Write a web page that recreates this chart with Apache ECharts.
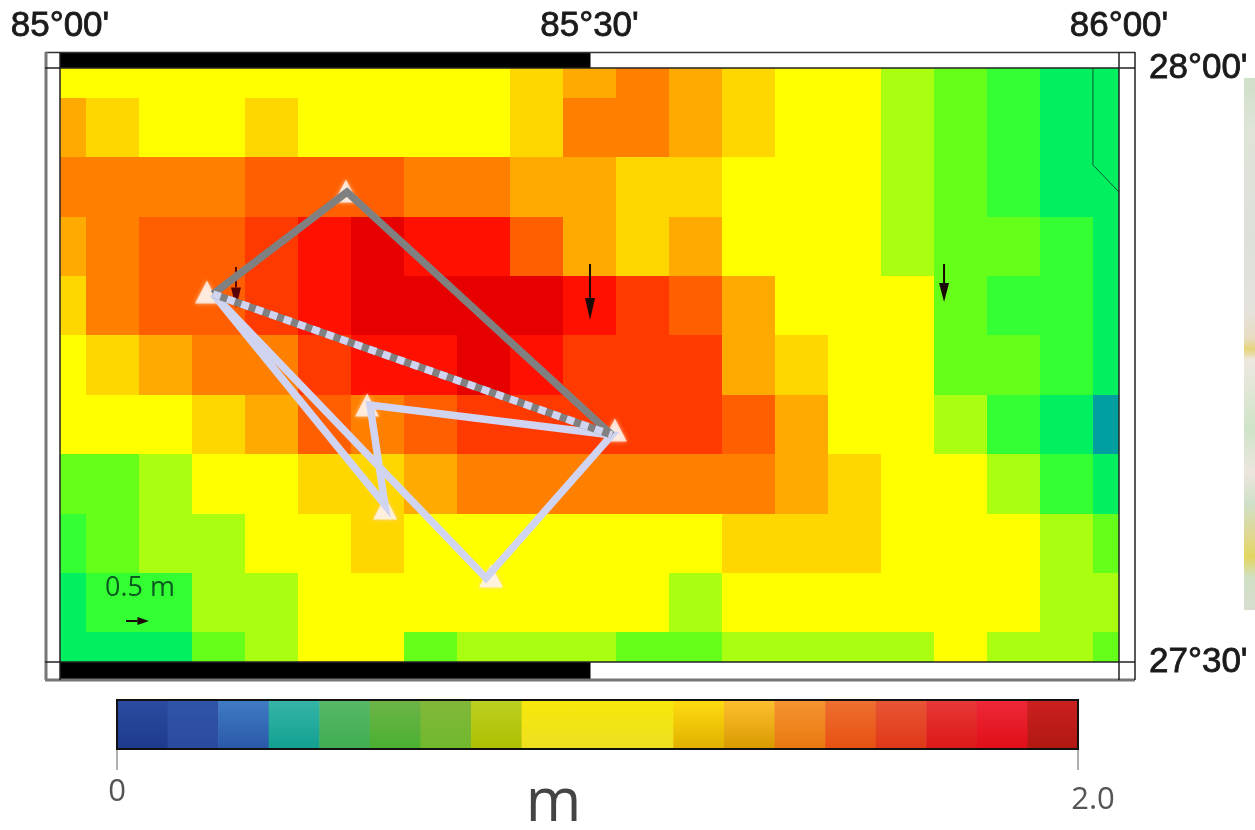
<!DOCTYPE html>
<html><head><meta charset="utf-8">
<style>html,body{margin:0;padding:0;background:#fff}#c{width:1255px;height:830px}</style>
<script src="https://cdn.jsdelivr.net/npm/echarts@6/dist/echarts.min.js"></script>
</head><body><div id="c"></div>
<script>
// Grid nodes every 0.05 degrees; rows run from 28.00N down to 27.50N, columns from 85.00E to 86.00E
const lons = [85,85.05,85.1,85.15,85.2,85.25,85.3,85.35,85.4,85.45,85.5,85.55,85.6,85.65,85.7,85.75,85.8,85.85,85.9,85.95,86];
const lats = [28,27.95,27.9,27.85,27.8,27.75,27.7,27.65,27.6,27.55,27.5];
// Estimated displacement (m)
const row2800 = [1,1,1,1,1,1,1,1,1,1.2,1.3,1.42,1.3,1.2,1,1,.8,.7,.6,.5,.5];
const row2795 = [1.3,1.2,1,1,1.2,1,1,1,1,1.2,1.42,1.42,1.3,1.2,1,1,.8,.7,.6,.5,.5];
const row2790 = [1.42,1.42,1.42,1.42,1.52,1.52,1.52,1.42,1.42,1.3,1.3,1.2,1.2,1,1,1,.8,.7,.6,.5,.5];
const row2785 = [1.3,1.42,1.52,1.52,1.63,1.73,1.84,1.73,1.73,1.52,1.3,1.2,1.3,1,1,1,.8,.7,.7,.6,.5];
const row2780 = [1.2,1.42,1.52,1.52,1.63,1.73,1.84,1.84,1.84,1.84,1.73,1.63,1.52,1.3,1,1,1,.7,.6,.6,.5];
const row2775 = [1,1.2,1.3,1.42,1.42,1.63,1.73,1.73,1.84,1.73,1.63,1.63,1.63,1.3,1.2,1,1,.7,.7,.6,.5];
const row2770 = [1,1,1,1.2,1.3,1.52,1.42,1.52,1.63,1.63,1.63,1.63,1.63,1.52,1.3,1,1,.8,.6,.5,.4];
const row2765 = [.7,.7,.8,1,1,1.2,1.2,1.3,1.42,1.42,1.42,1.42,1.42,1.42,1.3,1.2,1,1,.8,.6,.5];
const row2760 = [.6,.7,.8,.8,1,1,1.2,1,1,1,1,1,1,1.2,1.2,1.2,1,1,1,.8,.7];
const row2755 = [.5,.6,.6,.8,.8,1,1,1,1,1,1,1,.8,1,1,1,1,1,1,.8,.8];
const row2750 = [.5,.5,.5,.7,.8,1,1,.7,.8,.8,.8,.7,.7,.8,.8,.8,.8,1,.8,.8,.7];
const valueRows = [row2800,row2795,row2790,row2785,row2780,row2775,row2770,row2765,row2760,row2755,row2750];

const xTickLabels = ["85°00'","85°30'","86°00'"];
const yTickLabels = ["27°30'","28°00'"];
const scaleLabels = ["0","2.0"];
const scaleBins = 19, scaleMax = 2;
const mapColors = ['#000080','#0000c0','#0050ff','#00a0a0','#00f060','#33ff33','#66ff1a','#aaff10','#ffff00','#ffff00','#ffff00','#ffd700','#ffaa00','#ff8000','#ff5f00','#ff3a00','#ff1000','#e60000','#b00000'];
const barTop = ['#2a4ca0','#3055a8','#3f7cc4','#35b5a8','#58b868','#6eb448','#82b83a','#bcd020','#f7e80a','#f7e80a','#f7e80a','#ffdc10','#ffc030','#f59530','#ee7030','#e85535','#e83838','#ee2838','#cc2020'];
const barBottom = ['#1e3a8e','#2a4aa0','#2a58a8','#12a090','#3fae50','#4ab030','#70b82c','#aec000','#eedf20','#eedf20','#eedf20','#e0b000','#d89a00','#e87810','#e85010','#e03818','#dc1818','#e00e18','#b01810'];

// Stations (lon, lat)
const stA = [85.271,27.8956], stB = [85.1445,27.8098], stC = [85.5212,27.6911];
const stD = [85.2927,27.7163], stE = [85.3069,27.6322], stF = [85.4023,27.5707];
const stationMarks = [[85.270,27.8965],[85.1388,27.8114],[85.290,27.7163],[85.307,27.6296],[85.407,27.5724],[85.524,27.6953]];
const grayPath = [stB,stA,stC];
const tiePath = [stB,stC];
const lavenderPath = [stB,stE,stD,stC,stF,stB];
const borderPath = [[85.9754,28],[85.9754,27.9184],[86,27.8956]];
// Arrows: lon0, lat0, lon1, lat1
const arrows = [[85.1662,27.8325,85.1662,27.798],[85.5005,27.835,85.5005,27.7879],[85.8348,27.835,85.8348,27.803],[85.0623,27.5345,85.084,27.5345]];
const blackBars = [[85,85.5,1],[85,85.5,-1]];

const cells = [];
valueRows.forEach((r,i)=>r.forEach((v,j)=>cells.push([lons[j],lats[i],v])));
const scaleData = barTop.map((c,i)=>[i*scaleMax/scaleBins,(i+1)*scaleMax/scaleBins,i]);

const lavender='#d0d4f0', gray='#808080';
const lineSeries=(data,color,extra)=>Object.assign({type:'line',data,showSymbol:false,symbol:'none',animation:false,silent:true,
  lineStyle:Object.assign({color,width:7.5,cap:'butt',join:'miter'},extra||{})});
const heavy={textBorderColor:'#1a1a1a',textBorderWidth:.8};

const option={
  animation:false,
  backgroundColor:'#fff',
  textStyle:{fontFamily:'Liberation Sans'},
  grid:[{left:60,top:68,width:1059,height:594,show:false,outerBoundsMode:'none'},{left:117,top:700,width:961,height:49,show:false,outerBoundsMode:'none'}],
  xAxis:[{type:'value',gridIndex:0,position:'top',min:85,max:86,interval:.5,splitLine:{show:false},axisLine:{show:false},axisTick:{show:false},
      axisLabel:Object.assign({margin:24,fontSize:35,color:'#1a1a1a',fontFamily:'Liberation Sans',formatter:(v,i)=>xTickLabels[i]},heavy)},
    {type:'value',gridIndex:1,position:'bottom',min:0,max:scaleMax,interval:scaleMax,splitLine:{show:false},axisLine:{show:false},
      axisTick:{show:true,length:21,lineStyle:{color:'#b0b0b0',width:2}},
      name:'m',nameLocation:'middle',nameGap:25,nameMoveOverlap:false,nameTextStyle:{fontSize:60,color:'#444',fontFamily:'Open Sans',padding:[0,88,0,0]},
      axisLabel:{margin:28,fontSize:31,color:'#555',fontFamily:'Open Sans',alignMaxLabel:'center',
        formatter:(v,i)=>i===0?'{z|'+scaleLabels[0]+'}':'{t|'+scaleLabels[1]+'}',
        rich:{z:{fontSize:31,color:'#555',fontFamily:'Open Sans'},t:{fontSize:31,color:'#555',fontFamily:'Open Sans',padding:[8,0,0,30]}}}}],
  yAxis:[{type:'value',gridIndex:0,position:'right',min:27.5,max:28,interval:.5,splitLine:{show:false},axisLine:{show:false},axisTick:{show:false},
      axisLabel:Object.assign({margin:30,fontSize:35,padding:[3,0,0,0],color:'#1a1a1a',fontFamily:'Liberation Sans',formatter:(v,i)=>yTickLabels[i]},heavy)},
    {type:'value',gridIndex:1,min:0,max:1,show:false}],
  series:[
    {type:'custom',xAxisIndex:0,yAxisIndex:0,clip:true,silent:true,data:cells,encode:{x:0,y:1},z:1,
      renderItem(p,api){
        const lon=api.value(0),lat=api.value(1),v=api.value(2);
        const a=api.coord([lon-.025,lat+.025]),b=api.coord([lon+.025,lat-.025]);
        const x=Math.round(a[0]),y=Math.round(a[1]);
        return {type:'rect',shape:{x,y,width:Math.round(b[0])-x,height:Math.round(b[1])-y},
          style:{fill:mapColors[Math.floor(v/(scaleMax/scaleBins))]}};
      }},
    {type:'custom',xAxisIndex:0,yAxisIndex:0,clip:false,silent:true,data:blackBars,z:3,encode:{x:[0,1]},
      renderItem(p,api){
        const top=api.value(2)>0;
        const a=api.coord([api.value(0),top?28:27.5]),b=api.coord([api.value(1),top?28:27.5]);
        const h=top?16:18;
        return {type:'rect',shape:{x:a[0],y:top?a[1]-h:a[1],width:b[0]-a[0]+1,height:h},style:{fill:'#000'}};
      }},
    Object.assign(lineSeries(borderPath,'#0a5a30',{width:1}),{z:2}),
    {type:'custom',xAxisIndex:0,yAxisIndex:0,clip:false,silent:true,data:arrows,z:4,encode:{x:[0,2],y:[1,3]},
      renderItem(p,api){
        const s=api.coord([api.value(0),api.value(1)]),e=api.coord([api.value(2),api.value(3)]);
        const dx=e[0]-s[0],dy=e[1]-s[1],L=Math.hypot(dx,dy),ux=dx/L,uy=dy/L;
        const hl=Math.min(22,L*.5),hw=L>30?5:4;
        const bx=e[0]-ux*hl,by=e[1]-uy*hl;
        const col=p.dataIndex===0?'#5a0505':'#1a0a08';
        return {type:'group',children:[
          {type:'line',shape:{x1:s[0],y1:s[1],x2:bx,y2:by},style:{stroke:col,lineWidth:2}},
          {type:'polygon',shape:{points:[[e[0],e[1]],[bx-uy*hw,by+ux*hw],[bx+uy*hw,by-ux*hw]]},style:{fill:col}}]};
      }},
    {type:'scatter',xAxisIndex:0,yAxisIndex:0,data:stationMarks,symbol:'triangle',symbolSize:[24,23],z:5,silent:true,
      itemStyle:{color:'#fff8f2',shadowBlur:4,shadowColor:'#ffd0b0'}},
    Object.assign(lineSeries(lavenderPath,lavender),{z:6}),
    Object.assign(lineSeries(grayPath,gray),{z:7}),
    Object.assign(lineSeries(tiePath,gray),{z:7}),
    Object.assign(lineSeries(tiePath,lavender,{type:[8,7]}),{z:8}),
    {type:'custom',xAxisIndex:1,yAxisIndex:1,clip:false,silent:true,data:scaleData,encode:{x:[0,1]},z:2,
      renderItem(p,api){
        const i=api.value(2);
        const a=api.coord([api.value(0),1]),b=api.coord([api.value(1),0]);
        return {type:'rect',shape:{x:a[0],y:a[1],width:b[0]-a[0]+.6,height:b[1]-a[1]},
          style:{fill:new echarts.graphic.LinearGradient(0,0,0,1,[{offset:0,color:barTop[i]},{offset:1,color:barBottom[i]}])}};
      }}
  ],
  graphic:[
    {type:'line',shape:{x1:45,y1:52.5,x2:1135,y2:52.5},style:{stroke:'#333',lineWidth:1.5},z:20},
    {type:'line',shape:{x1:46,y1:52,x2:46,y2:680},style:{stroke:'#777',lineWidth:3},z:20},
    {type:'line',shape:{x1:45,y1:680,x2:1135,y2:680},style:{stroke:'#777',lineWidth:3},z:20},
    {type:'line',shape:{x1:1135,y1:52,x2:1135,y2:680},style:{stroke:'#222',lineWidth:1.5},z:20},
    {type:'line',shape:{x1:1119,y1:52,x2:1119,y2:680},style:{stroke:'#222',lineWidth:1.5},z:20},
    {type:'line',shape:{x1:60,y1:52,x2:60,y2:680},style:{stroke:'#222',lineWidth:1.5},z:20},
    {type:'line',shape:{x1:45,y1:68,x2:1135,y2:68},style:{stroke:'#222',lineWidth:1.5},z:20},
    {type:'line',shape:{x1:45,y1:662,x2:1135,y2:662},style:{stroke:'#222',lineWidth:1.5},z:20},
    {type:'rect',shape:{x:117,y:700,width:961,height:49},style:{fill:'none',stroke:'#111',lineWidth:2},z:20},
    {type:'text',x:105,y:575,style:{text:'0.5 m',fontSize:27,fill:'#0b5a20',fontFamily:'Open Sans'},z:20},
    {type:'rect',shape:{x:1244,y:78,width:11,height:532},z:1,style:{fill:new echarts.graphic.LinearGradient(0,0,0,1,[
      {offset:0,color:'#cfe0c8'},{offset:.1,color:'#dfe4d8'},{offset:.3,color:'#dde0da'},{offset:.44,color:'#e5e2dc'},{offset:.49,color:'#e8dcc0'},
      {offset:.51,color:'#e4d478'},{offset:.53,color:'#eee8e0'},{offset:.66,color:'#cfe4c8'},{offset:.74,color:'#ece6de'},{offset:.8,color:'#cfe0c8'},
      {offset:.86,color:'#dfd890'},{offset:.9,color:'#e2d660'},{offset:.94,color:'#cfe0c4'},{offset:1,color:'#d8ddd0'}])}}
  ]
};
echarts.init(document.getElementById('c'),null,{renderer:'canvas'}).setOption(option);
</script></body></html>
